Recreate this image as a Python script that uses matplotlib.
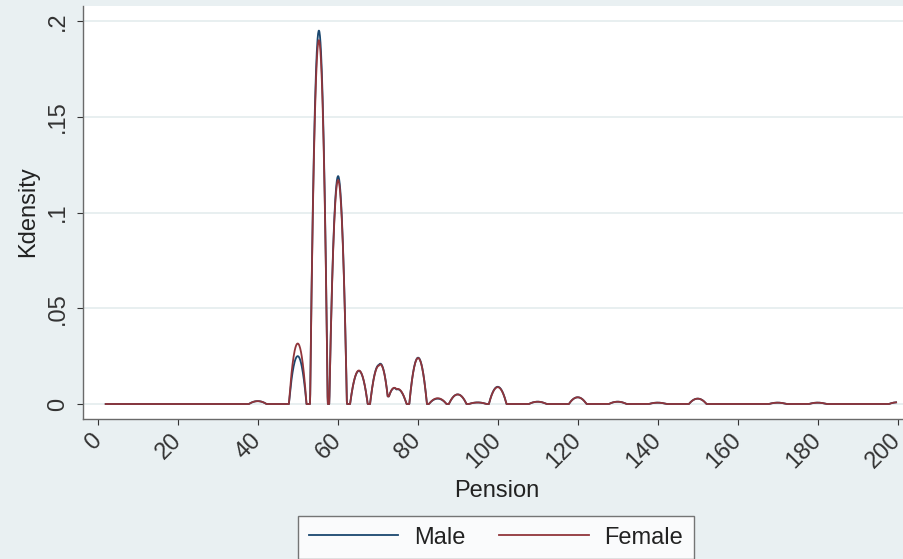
import matplotlib
matplotlib.use("Agg")
import matplotlib.pyplot as plt
import numpy as np

# --- data (peak positions / peak heights of the kdensity) ---
peak_pension = [40, 50, 55.3, 60.1, 65.3, 70.3, 72.5, 75, 80.1, 85, 90, 95,
                100, 110, 120, 130, 140, 150, 170, 180, 200]
male_peaks = [0.0015, 0.025, 0.195, 0.119, 0.0173, 0.0204, 0.004, 0.0077, 0.0242,
              0.0028, 0.005, 0.0008, 0.0090, 0.0012, 0.0035, 0.0012, 0.0007,
              0.0028, 0.0007, 0.0007, 0.0009]
female_peaks = [0.0015, 0.0316, 0.190, 0.117, 0.0175, 0.0200, 0.004, 0.0079, 0.0240,
                0.0030, 0.0050, 0.0008, 0.0088, 0.0012, 0.0035, 0.0012, 0.0007,
                0.0028, 0.0007, 0.0007, 0.0009]
series_names = ["Male", "Female"]
series_colors = ["#1a476f", "#90353b"]

y_ticks = [0, 0.05, 0.1, 0.15, 0.2]
y_ticklabels = ["0", ".05", ".1", ".15", ".2"]
x_ticks = list(range(0, 201, 20))

bandwidth = 2.2  # epanechnikov half-width, same as the stata kdensity look
grid = np.linspace(2, 199.6, 3000)


def kdens(heights):
    out = np.zeros_like(grid)
    for c, h in zip(peak_pension, heights):
        u = (grid - c) / bandwidth
        out += h * np.clip(1 - u ** 2, 0, None)
    return out


plt.rcParams['font.family'] = ['Liberation Sans', 'DejaVu Sans']
bg = "#e9f0f2"
fig = plt.figure(figsize=(9.04, 5.59), dpi=100, facecolor=bg)
ax = fig.add_axes([83 / 904, 1 - 419 / 559, 1 - 83 / 904, (419 - 6) / 559])
ax.set_facecolor("white")

for heights, name, col in zip([male_peaks, female_peaks], series_names, series_colors):
    ax.plot(grid, kdens(heights), color=col, lw=1.3, label=name)

ax.set_xlim(-3.675, 201.575)
ax.set_ylim(-0.00783, 0.20783)

ax.set_yticks(y_ticks)
ax.set_yticklabels(y_ticklabels, rotation=90, va="center")
ax.set_xticks(x_ticks)
ax.set_xticklabels([str(t) for t in x_ticks], rotation=45, ha="right",
                   va="center", rotation_mode="anchor")
ax.tick_params(axis="both", labelsize=17, colors="#333333", length=4,
               width=0.8, direction="out")
ax.tick_params(axis="x", pad=9)
ax.tick_params(axis="y", pad=6)

ax.grid(axis="y", color="#e4ecee", lw=1.2)
ax.set_axisbelow(True)
for s in ["top", "right"]:
    ax.spines[s].set_visible(False)
for s in ["left", "bottom"]:
    ax.spines[s].set_color("#6a6a6a")
    ax.spines[s].set_linewidth(1.0)

fig.text(28.5 / 904, 1 - 212 / 559, "Kdensity", rotation=90, ha="center",
         va="center", fontsize=17, color="#222222")
fig.text(496.5 / 904, 1 - 497 / 559, "Pension", ha="center", va="baseline",
         fontsize=17, color="#222222")

leg = fig.legend(loc="upper center", bbox_to_anchor=(496 / 904, 1 - 516 / 559),
                 ncol=2, fontsize=17, frameon=True, fancybox=False,
                 handlelength=3.8, handletextpad=0.65, columnspacing=1.45,
                 borderpad=0.45, borderaxespad=0)
leg.get_frame().set_edgecolor("#555555")
leg.get_frame().set_linewidth(1.0)
leg.get_frame().set_facecolor("white")
for t in leg.get_texts():
    t.set_color("#222222")

fig.savefig("out.png", dpi=100, facecolor=bg)
